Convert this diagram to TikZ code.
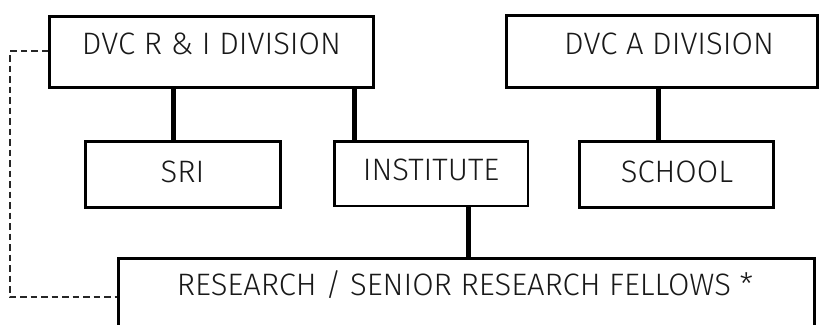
\documentclass[tikz,border=0pt]{standalone}
\usepackage{fontspec}
\setmainfont{Fira Sans Light}
\begin{document}
\begin{tikzpicture}[x=1pt,y=-1pt,
  box/.style={draw=black, line width=3pt, fill=white, inner sep=0pt, anchor=center},
  txt/.style={font=\fontsize{31}{34}\selectfont, inner sep=0pt, anchor=center, text=black!90},
  conn/.style={draw=black, line width=5pt},
  dashconn/.style={draw=black!85, line width=1.6pt, dash pattern=on 6.5pt off 4pt}]
\useasboundingbox[fill=white] (0,0) rectangle (821,324);
% boxes
\node[box, minimum width=324pt, minimum height=71pt] (dvcri) at (211.5,52) {};
\node[box, minimum width=311pt, minimum height=72pt] (dvca) at (662,51.5) {};
\node[box, minimum width=195pt, minimum height=66pt] (sri) at (183,174.5) {};
\node[box, line width=2.5pt, minimum width=193.5pt, minimum height=64.5pt] (inst) at (431,173.5) {};
\node[box, minimum width=194pt, minimum height=66pt] (school) at (676.5,174.5) {};
\node[box, minimum width=696pt, minimum height=120pt] (res) at (466.5,318) {};
% texts
\node[txt] (tdvcri) at (211.5,44) {DVC R \& I DIVISION};
\node[txt] (tdvca) at (669,44) {DVC A DIVISION};
\node[txt] (tsri) at (182.5,172) {SRI};
\node[txt] (tinst) at (431,170) {INSTITUTE};
\node[txt] (tschool) at (677,172) {SCHOOL};
\node[txt] (tres) at (465,285) {RESEARCH / SENIOR RESEARCH FELLOWS *};
% connectors
\draw[conn] ([xshift=-38.5pt]dvcri.south) -- ([xshift=-10pt]sri.north);
\draw[conn] ([xshift=142.5pt]dvcri.south) -- ([xshift=-77pt]inst.north);
\draw[conn] ([xshift=-4pt]dvca.south) -- ([xshift=-18.5pt]school.north);
\draw[conn] ([xshift=37pt]inst.south) -- ([xshift=1.5pt]res.north);
\coordinate (c1) at (10,51);
\coordinate (c2) at (10,297);
\draw[dashconn] (dvcri.west |- c1) -- (c1) -- (c2) -- (c2 -| res.west);
\end{tikzpicture}
\end{document}
